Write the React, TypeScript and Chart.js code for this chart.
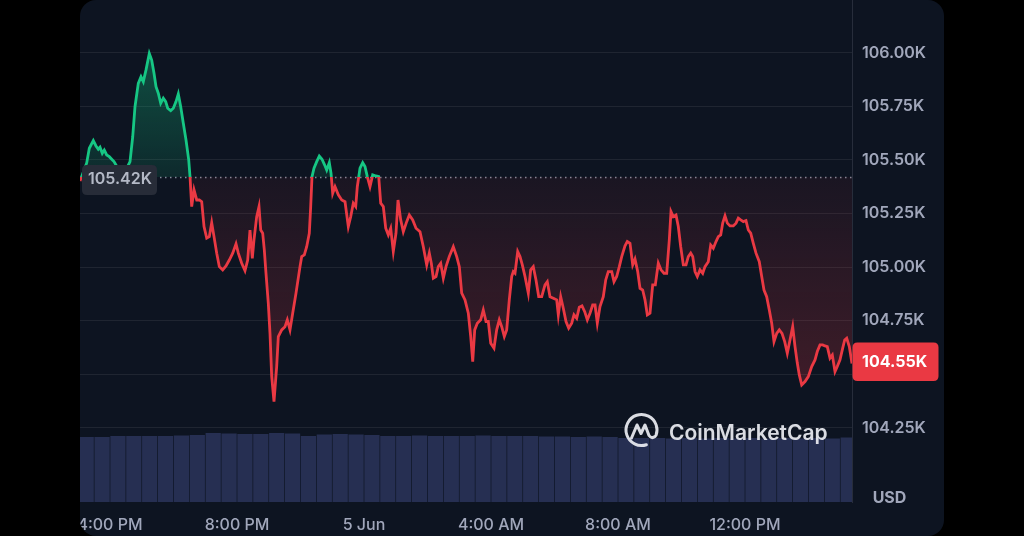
import { useEffect, useRef } from 'react';
import { Chart, registerables } from 'chart.js';

Chart.register(...registerables);

// Hours since 4:00 PM (4 Jun) and BTC price in USD
const times = [
  -0.945, -0.734, -0.652, -0.526, -0.441, -0.369, -0.315, -0.243, -0.18, -0.104, -0.022, 0.054, 0.126, 0.315, 0.504, 0.63,
  0.715, 0.787, 0.891, 0.976, 1.049, 1.134, 1.238, 1.313, 1.386, 1.449, 1.521, 1.597, 1.679, 1.754, 1.817, 1.912, 1.994,
  2.079, 2.151, 2.227, 2.309, 2.394, 2.479, 2.52, 2.573, 2.646, 2.731, 2.813, 2.888, 2.961, 3.046, 3.128, 3.203, 3.276,
  3.361, 3.443, 3.55, 3.654, 3.758, 3.865, 3.969, 4.041, 4.148, 4.252, 4.337, 4.409, 4.482, 4.535, 4.62, 4.693, 4.747,
  4.809, 4.86, 4.913, 4.986, 5.039, 5.093, 5.165, 5.25, 5.301, 5.408, 5.512, 5.584, 5.669, 5.754, 5.858, 5.984, 6.038,
  6.12, 6.195, 6.277, 6.321, 6.362, 6.425, 6.51, 6.592, 6.677, 6.762, 6.825, 6.907, 6.961, 7.014, 7.087, 7.191, 7.298,
  7.402, 7.506, 7.581, 7.663, 7.739, 7.789, 7.874, 7.959, 8.031, 8.104, 8.189, 8.274, 8.378, 8.463, 8.526, 8.608, 8.684,
  8.765, 8.841, 8.923, 9.008, 9.071, 9.156, 9.238, 9.345, 9.427, 9.534, 9.638, 9.764, 9.868, 9.975, 10.057, 10.12,
  10.183, 10.268, 10.34, 10.416, 10.498, 10.583, 10.687, 10.813, 10.92, 11.002, 11.077, 11.181, 11.285, 11.361, 11.424,
  11.487, 11.569, 11.676, 11.757, 11.843, 11.915, 11.991, 12.094, 12.179, 12.261, 12.337, 12.419, 12.494, 12.576,
  12.652, 12.702, 12.756, 12.841, 12.913, 12.986, 13.071, 13.175, 13.25, 13.332, 13.417, 13.502, 13.597, 13.701,
  13.773, 13.858, 13.962, 14.069, 14.12, 14.195, 14.277, 14.362, 14.447, 14.542, 14.614, 14.699, 14.781, 14.866,
  14.951, 15.033, 15.118, 15.203, 15.276, 15.348, 15.433, 15.537, 15.613, 15.694, 15.802, 15.874, 15.959, 16.041,
  16.117, 16.221, 16.293, 16.378, 16.463, 16.535, 16.62, 16.693, 16.778, 16.85, 16.923, 17.008, 17.093, 17.175, 17.269,
  17.354, 17.449, 17.534, 17.616, 17.669, 17.742, 17.827, 17.899, 17.975, 18.057, 18.142, 18.214, 18.29, 18.353,
  18.425, 18.498, 18.583, 18.668, 18.74, 18.844, 18.92, 19.002, 19.087, 19.159, 19.235, 19.298, 19.37, 19.443, 19.528,
  19.632, 19.717, 19.789, 19.865, 19.947, 20.031, 20.104, 20.18, 20.262, 20.346, 20.45, 20.526, 20.598, 20.683,
  20.765, 20.841, 20.913, 20.999, 21.08, 21.165, 21.25, 21.332, 21.417, 21.502, 21.575, 21.647, 21.71, 21.786, 21.89,
  21.994, 22.101, 22.205, 22.277, 22.362, 22.447, 22.52, 22.592, 22.677, 22.75, 22.835, 22.907, 22.992, 23.077,
  23.14, 23.203, 23.285, 23.37,
];

const prices = [
  105402, 105486, 105554, 105590, 105565, 105550, 105559, 105531, 105546, 105523, 105515, 105503, 105492, 105444, 105453, 105492,
  105608, 105748, 105857, 105888, 105865, 105920, 105997, 105966, 105904, 105842, 105811, 105764, 105788, 105772, 105741, 105730, 105741,
  105772, 105808, 105748, 105671, 105593, 105500, 105422, 105282, 105360, 105313, 105313, 105305, 105189, 105135, 105142, 105207, 105142,
  105065, 105002, 104987, 105005, 105033, 105065, 105108, 105065, 105018, 104983, 105033, 105173, 105041, 105127, 105235, 105282, 105173,
  105158, 105080, 104971, 104831, 104691, 104489, 104372, 104536, 104676, 104707, 104722, 104754, 104707, 104785, 104878, 105002, 105049,
  105057, 105095, 105158, 105282, 105422, 105461, 105492, 105518, 105503, 105476, 105453, 105487, 105438, 105344, 105375, 105337, 105313,
  105305, 105189, 105235, 105298, 105282, 105375, 105461, 105487, 105469, 105422, 105375, 105430, 105425, 105422, 105298, 105282, 105181,
  105150, 105181, 105072, 105158, 105313, 105220, 105165, 105212, 105243, 105220, 105181, 105165, 105095, 105010, 105065, 105018,
  104948, 104956, 105002, 105018, 104948, 105002, 105049, 105095, 105049, 105002, 104878, 104847, 104785, 104676, 104559,
  104707, 104738, 104754, 104800, 104746, 104746, 104645, 104622, 104707, 104754, 104722, 104676, 104707, 104847,
  104956, 104979, 104971, 105072, 105049, 105010, 104956, 104878, 104987, 105002, 104940, 104862, 104862, 104917,
  104932, 104862, 104855, 104847, 104777, 104862, 104808, 104746, 104715, 104738, 104777, 104761, 104813, 104819,
  104792, 104754, 104785, 104823, 104823, 104738, 104816, 104862, 104940, 104979, 104979, 104932, 104956, 105002,
  105049, 105099, 105119, 105111, 105010, 105037, 104979, 104901, 104893, 104847, 104777, 104785, 104917, 104917, 105018,
  104987, 104971, 104971, 105127, 105259, 105235, 105243, 105189, 105095, 105010, 105010, 105049, 105065, 105049,
  104979, 104956, 104987, 104971, 105002, 105025, 105103, 105088, 105119, 105142, 105150, 105205, 105239, 105205, 105192,
  105192, 105205, 105228, 105220, 105212, 105217, 105173, 105158, 105111, 105065, 105025, 104956, 104893, 104862,
  104800, 104738, 104652, 104691, 104707, 104691, 104652, 104598, 104660, 104722, 104629, 104552, 104497, 104450, 104466,
  104489, 104536, 104567, 104606, 104637, 104637, 104632, 104629, 104575, 104590, 104512, 104536, 104567, 104622,
  104660, 104668, 104629, 104550,
];

// 30-minute volume bars (relative units)
const volumeTimes = [
  -0.75, -0.25, 0.25, 0.75, 1.25, 1.75, 2.25, 2.75, 3.25, 3.75, 4.25, 4.75, 5.25, 5.75, 6.25, 6.75, 7.25, 7.75, 8.25, 8.75,
  9.25, 9.75, 10.25, 10.75, 11.25, 11.75, 12.25, 12.75, 13.25, 13.75, 14.25, 14.75, 15.25, 15.75, 16.25, 16.75, 17.25,
  17.75, 18.25, 18.75, 19.25, 19.75, 20.25, 20.75, 21.25, 21.75, 22.25, 22.75, 23.25,
];
const volumes = [
  130, 130, 132, 132, 132, 132, 133, 134, 138, 137, 136, 136, 138, 137, 132, 135, 136, 135, 134, 132,
  132, 133, 132, 132, 132, 133, 132, 132, 132, 131, 131, 130, 131, 130, 128, 128, 128,
  127, 128, 127, 128, 127, 128, 127, 128, 127, 128, 127, 129,
];

const xTickValues = [0, 4, 8, 12, 16, 20];
const xTickLabels = ['4:00 PM', '8:00 PM', '5 Jun', '4:00 AM', '8:00 AM', '12:00 PM'];
const yTickValues = [104250, 104500, 104750, 105000, 105250, 105500, 105750, 106000];

const BASE_PRICE = 105420;
const CURRENT_PRICE = 104550;
const X_MIN = -0.945;
const X_MAX = 23.37;
const Y_MIN = 103904;
const Y_MAX = 106246;
const VOL_MAX = 1004;

const GREEN = '#16c784';
const RED = '#ea3943';
const LABEL = '#a1a7bb';
const FONT = 'Inter, "Noto Sans", sans-serif';

const fmtK = (v: number) => (v / 1000).toFixed(2) + 'K';

function baseRatio(chart: any) {
  const a = chart.chartArea;
  const yb = chart.scales.y.getPixelForValue(BASE_PRICE);
  return Math.min(Math.max((yb - a.top) / (a.bottom - a.top), 0), 1);
}

const lineColor = (c: any) => {
  const chart = c.chart;
  const a = chart.chartArea;
  if (!a || !chart.scales.y) return RED;
  const r = baseRatio(chart);
  const g = chart.ctx.createLinearGradient(0, a.top, 0, a.bottom);
  g.addColorStop(0, GREEN);
  g.addColorStop(r, GREEN);
  g.addColorStop(r, RED);
  g.addColorStop(1, RED);
  return g;
};

const fillColor = (c: any) => {
  const chart = c.chart;
  const a = chart.chartArea;
  if (!a || !chart.scales.y) return 'rgba(234,57,67,0.1)';
  const r = baseRatio(chart);
  const yLow = chart.scales.y.getPixelForValue(Math.min(...prices));
  const rl = Math.min(Math.max((yLow - a.top) / (a.bottom - a.top), r), 1);
  const g = chart.ctx.createLinearGradient(0, a.top, 0, a.bottom);
  g.addColorStop(0, 'rgba(22,199,132,0.42)');
  g.addColorStop(r, 'rgba(22,199,132,0.12)');
  g.addColorStop(r, 'rgba(234,57,67,0.06)');
  g.addColorStop(rl, 'rgba(234,57,67,0.24)');
  g.addColorStop(1, 'rgba(234,57,67,0.24)');
  return g;
};

function roundRect(ctx: CanvasRenderingContext2D, x: number, y: number, w: number, h: number, r: number) {
  ctx.beginPath();
  ctx.moveTo(x + r, y);
  ctx.lineTo(x + w - r, y);
  ctx.quadraticCurveTo(x + w, y, x + w, y + r);
  ctx.lineTo(x + w, y + h - r);
  ctx.quadraticCurveTo(x + w, y + h, x + w - r, y + h);
  ctx.lineTo(x + r, y + h);
  ctx.quadraticCurveTo(x, y + h, x, y + h - r);
  ctx.lineTo(x, y + r);
  ctx.quadraticCurveTo(x, y, x + r, y);
  ctx.closePath();
}

const baselinePlugin = {
  id: 'baseline',
  beforeDatasetsDraw(chart: any) {
    const { ctx, chartArea: a, scales } = chart;
    const y = Math.round(scales.y.getPixelForValue(BASE_PRICE)) + 0.5;
    ctx.save();
    ctx.strokeStyle = 'rgba(170,176,192,0.75)';
    ctx.lineWidth = 1.5;
    ctx.setLineDash([1.5, 3.5]);
    ctx.beginPath();
    ctx.moveTo(a.left, y);
    ctx.lineTo(a.right, y);
    ctx.stroke();
    ctx.restore();
  },
};

const overlayPlugin = {
  id: 'overlay',
  afterDraw(chart: any) {
    const { ctx, chartArea: a, scales } = chart;
    ctx.save();

    // watermark
    const cx = 641.5;
    const cy = 430;
    ctx.strokeStyle = 'rgba(236,238,243,0.92)';
    ctx.lineWidth = 3;
    ctx.lineCap = 'round';
    ctx.lineJoin = 'round';
    ctx.beginPath();
    ctx.arc(cx, cy, 15.5, 1.25, 0.35 + Math.PI * 2);
    ctx.stroke();
    ctx.beginPath();
    ctx.moveTo(cx - 10, cy + 8);
    ctx.lineTo(cx - 4.5, cy - 5);
    ctx.lineTo(cx - 0.5, cy + 3.5);
    ctx.lineTo(cx + 3.5, cy - 5);
    ctx.lineTo(cx + 7.5, cy + 5.5);
    ctx.quadraticCurveTo(cx + 10, cy + 9, cx + 13.5, cy + 6.5);
    ctx.stroke();
    ctx.fillStyle = 'rgba(236,238,243,0.92)';
    ctx.font = `600 21px ${FONT}`;
    ctx.textAlign = 'left';
    ctx.textBaseline = 'alphabetic';
    ctx.fillText('CoinMarketCap', 669, 439.5);

    // base price tag
    const yb = scales.y.getPixelForValue(BASE_PRICE);
    ctx.fillStyle = '#272c38';
    roundRect(ctx, a.left + 2, yb - 12, 75, 30, 5);
    ctx.fill();
    ctx.fillStyle = '#b4b9c6';
    ctx.font = `600 16px ${FONT}`;
    ctx.textBaseline = 'middle';
    ctx.fillText(fmtK(BASE_PRICE), a.left + 8, yb + 2.5);

    // current price tag
    const yc = scales.y.getPixelForValue(CURRENT_PRICE);
    ctx.fillStyle = RED;
    roundRect(ctx, a.right + 0.5, yc - 21, 86, 38.5, 5);
    ctx.fill();
    ctx.fillStyle = '#ffffff';
    ctx.font = `700 16px ${FONT}`;
    ctx.fillText(fmtK(CURRENT_PRICE), a.right + 10, yc - 1.5);

    // currency label
    ctx.fillStyle = LABEL;
    ctx.font = `700 16px ${FONT}`;
    ctx.textAlign = 'center';
    ctx.fillText('USD', 889.5, 498);

    ctx.restore();
  },
};

export default function App() {
  const ref = useRef<HTMLCanvasElement | null>(null);

  useEffect(() => {
    if (!ref.current) return;
    const chart = new Chart(ref.current, {
      type: 'line',
      data: {
        datasets: [
          {
            type: 'line',
            data: times.map((t, i) => ({ x: t, y: prices[i] })),
            yAxisID: 'y',
            borderColor: lineColor as any,
            backgroundColor: fillColor as any,
            borderWidth: 2.8,
            pointRadius: 0,
            tension: 0,
            fill: { value: BASE_PRICE } as any,
            order: 0,
          },
          {
            type: 'bar',
            data: volumeTimes.map((t, i) => ({ x: t, y: volumes[i] })),
            yAxisID: 'yv',
            backgroundColor: '#262f52',
            borderWidth: 0,
            barPercentage: 1,
            categoryPercentage: 0.96,
            grouped: false,
            order: 1,
          } as any,
        ],
      },
      options: {
        animation: false,
        responsive: false,
        events: [],
        layout: { padding: { left: 80, top: 0, right: 0, bottom: 0 } },
        plugins: { legend: { display: false }, tooltip: { enabled: false } },
        scales: {
          x: {
            type: 'linear',
            offset: false,
            min: X_MIN,
            max: X_MAX,
            grid: { display: false, drawTicks: false, offset: false },
            border: { display: false },
            afterBuildTicks: (s: any) => {
              s.ticks = xTickValues.map((v) => ({ value: v }));
            },
            afterFit: (s: any) => {
              s.height = 34;
              s.paddingLeft = 0;
              s.paddingRight = 0;
            },
            ticks: {
              autoSkip: false,
              maxRotation: 0,
              padding: 14,
              color: LABEL,
              font: { family: FONT, size: 16, weight: '500' as any },
              callback: (v: any) => {
                const i = xTickValues.indexOf(Number(v));
                return i >= 0 ? xTickLabels[i] : '';
              },
            },
          },
          y: {
            type: 'linear',
            position: 'right',
            min: Y_MIN,
            max: Y_MAX,
            grid: { color: 'rgba(255,255,255,0.075)', drawTicks: false, lineWidth: 1 },
            border: { display: true, color: '#272d3b', width: 1 },
            afterBuildTicks: (s: any) => {
              s.ticks = yTickValues.map((v) => ({ value: v }));
            },
            afterFit: (s: any) => {
              s.width = 172;
              s.paddingTop = 0;
              s.paddingBottom = 0;
            },
            ticks: {
              padding: 10,
              color: LABEL,
              font: { family: FONT, size: 16, weight: '600' as any },
              callback: (v: any) => fmtK(Number(v)),
            },
          },
          yv: {
            type: 'linear',
            display: false,
            min: 0,
            max: VOL_MAX,
          },
        },
      },
      plugins: [baselinePlugin, overlayPlugin],
    } as any);
    return () => chart.destroy();
  }, []);

  return (
    <div style={{ position: 'fixed', inset: 0, background: '#000', overflow: 'hidden' }}>
      <div
        style={{
          position: 'absolute',
          left: 80,
          top: 0,
          width: 864,
          height: 536,
          borderRadius: 16,
          overflow: 'hidden',
          background: '#0d1421',
        }}
      >
        <canvas
          ref={ref}
          width={1024}
          height={536}
          style={{ position: 'absolute', left: -80, top: 0, width: 1024, height: 536 }}
        />
      </div>
    </div>
  );
}
